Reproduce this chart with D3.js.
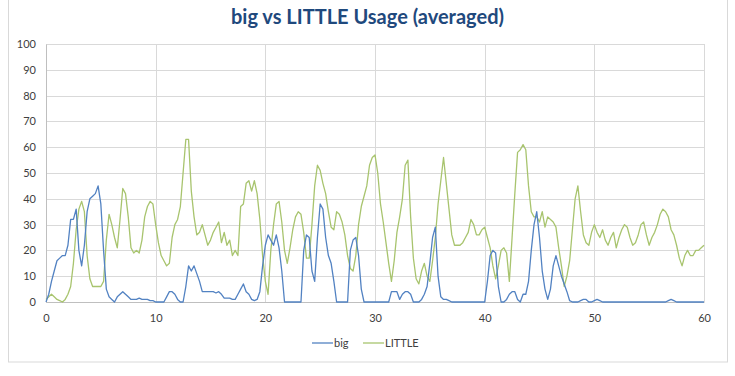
<!DOCTYPE html>
<html>
<head>
<meta charset="utf-8">
<script src="https://cdn.jsdelivr.net/npm/d3@7"></script>
<style>
  body { margin: 0; background: #fff; }
  text { font-family: Lato, "Open Sans", sans-serif; }
</style>
</head>
<body>
<div id="chart"></div>
<script>
var w = 735;
var h = 376;
var margin = { top: 44, right: 31, bottom: 74, left: 46 };
var width = w - margin.left - margin.right;
var height = h - margin.top - margin.bottom;

// samples every 0.25 on the x axis, starting at 0
var step = 0.25;
var seriesNames = ["big", "LITTLE"];
var xTicks = [0, 10, 20, 30, 40, 50, 60];
var yTicks = [0, 10, 20, 30, 40, 50, 60, 70, 80, 90, 100];

var bigUsage = [
  0, 3, 8, 12, 16, 17, 18, 18, 22, 32, 32, 36, 20, 14, 22, 35,
  40, 41, 42, 45, 38, 20, 5, 2, 1, 0, 2, 3, 4, 3, 2, 1,
  1, 1, 1.5, 1, 1, 1, 0.5, 0.5, 0, 0, 0, 0, 2, 4, 4, 3,
  1, 0, 0, 6, 14, 12, 14, 11, 8, 4, 4, 4, 4, 4, 3.5, 4,
  3, 1.5, 1.5, 1.5, 1, 1, 3, 5, 7, 4, 3, 1, 0.5, 1, 4, 14,
  22, 26, 24, 22, 26, 21, 12, 0, 0, 0, 0, 0, 0, 0, 20, 26,
  25, 12, 8, 25, 38, 36, 25, 18, 15, 8, 0, 0, 0, 0, 0, 20,
  24, 25, 18, 5, 0, 0, 0, 0, 0, 0, 0, 0, 0, 0, 4, 4,
  4, 1, 3, 4, 4, 3, 0, 0, 0, 1, 3, 6, 15, 25, 29, 10,
  2, 1, 1, 0.5, 0, 0, 0, 0, 0, 0, 0, 0, 0, 0, 0, 0,
  0, 8, 18, 20, 19, 6, 0, 0, 1, 3, 4, 4, 1, 0, 3, 3,
  8, 20, 30, 35, 25, 12, 5, 1, 5, 14, 18, 14, 10, 7, 4, 0.5,
  0, 0, 0, 0.5, 1, 1, 0, 0, 0.5, 1, 0.5, 0, 0, 0, 0, 0,
  0, 0, 0, 0, 0, 0, 0, 0, 0, 0, 0, 0, 0, 0, 0, 0,
  0, 0, 0, 0.5, 1, 0.5, 0, 0, 0, 0, 0, 0, 0, 0, 0, 0,
  0
];

var littleUsage = [
  1, 2, 3, 2, 1, 0.5, 0, 1, 3, 6, 15, 28, 36, 39, 35, 18,
  9, 6, 6, 6, 6, 8, 24, 34, 30, 25, 21, 32, 44, 42, 33, 21,
  19, 20, 19, 24, 33, 37, 39, 38, 30, 23, 18, 16, 14, 15, 25, 30,
  32, 37, 50, 63, 63, 43, 33, 26, 27, 30, 26, 22, 24, 27, 29, 31,
  23, 27, 22, 24, 18, 20, 18, 37, 38, 46, 47, 43, 47, 42, 32, 18,
  8, 3, 20, 30, 38, 39, 31, 20, 15, 21, 28, 33, 35, 34, 27, 17,
  17, 30, 45, 53, 51, 46, 42, 35, 29, 28, 35, 34, 31, 26, 18, 13,
  12, 18, 30, 37, 41, 45, 53, 56, 57, 50, 38, 31, 23, 15, 8, 16,
  27, 33, 40, 53, 55, 33, 17, 9, 7, 12, 15, 10, 8, 16, 25, 38,
  47, 56, 46, 36, 26, 22, 22, 22, 23, 25, 27, 32, 30, 26, 26, 28,
  29, 25, 21, 14, 9, 14, 20, 21, 19, 8, 25, 42, 58, 59, 61, 59,
  45, 35, 33, 33, 31, 35, 29, 33, 32, 31, 29, 21, 14, 6, 10, 16,
  28, 40, 45, 35, 26, 23, 22, 27, 30, 27, 25, 28, 24, 22, 25, 27,
  21, 25, 28, 30, 29, 25, 22, 23, 26, 30, 31, 26, 22, 25, 27, 30,
  34, 36, 35, 33, 28, 26, 22, 17, 14, 18, 20, 18, 18, 20, 20, 21,
  22
];

var colors = { big: "#5282c2", LITTLE: "#a8c46e" };

var svg = d3.select("#chart")
  .append("svg")
  .attr("width", w)
  .attr("height", h);

// outer chart border
svg.append("rect")
  .attr("x", 8.5)
  .attr("y", -1)
  .attr("width", 719)
  .attr("height", 363)
  .attr("fill", "#fff")
  .attr("stroke", "#d9d9d9");

// title
svg.append("text")
  .attr("x", w / 2)
  .attr("y", 24)
  .attr("text-anchor", "middle")
  .attr("fill", "#1f497d")
  .style("font-size", "20px")
  .style("font-weight", "bold")
  .text("big vs LITTLE Usage (averaged)");

var g = svg.append("g")
  .attr("transform", "translate(" + margin.left + "," + margin.top + ")");

var xScale = d3.scaleLinear().domain([0, 60]).range([0, width]);
var yScale = d3.scaleLinear().domain([0, 100]).range([height, 0]);

// gridlines
g.selectAll(".hgrid")
  .data(yTicks)
  .enter().append("line")
  .attr("x1", 0)
  .attr("x2", width)
  .attr("y1", function(d) { return Math.round(yScale(d)) + 0.5; })
  .attr("y2", function(d) { return Math.round(yScale(d)) + 0.5; })
  .attr("stroke", "#d9d9d9");

g.selectAll(".vgrid")
  .data(xTicks)
  .enter().append("line")
  .attr("y1", 0)
  .attr("y2", height)
  .attr("x1", function(d) { return Math.round(xScale(d)) + 0.5; })
  .attr("x2", function(d) { return Math.round(xScale(d)) + 0.5; })
  .attr("stroke", "#d9d9d9");

// axes
var yAxis = g.append("g")
  .call(d3.axisLeft(yScale).tickValues(yTicks).tickSize(0).tickPadding(10));
var xAxis = g.append("g")
  .attr("transform", "translate(0," + height + ")")
  .call(d3.axisBottom(xScale).tickValues(xTicks).tickSize(0).tickPadding(12));

[xAxis, yAxis].forEach(function(ax) {
  ax.select(".domain").attr("stroke", "#bfbfbf");
  ax.selectAll("text")
    .attr("fill", "#404040")
    .style("font-size", "11px")
    .style("font-family", "Lato, 'Open Sans', sans-serif");
});

// lines
var line = d3.line()
  .x(function(d, i) { return xScale(i * step); })
  .y(function(d) { return yScale(d); });

g.append("path")
  .datum(littleUsage)
  .attr("d", line)
  .attr("fill", "none")
  .attr("stroke", colors.LITTLE)
  .attr("stroke-width", 1.3)
  .attr("stroke-linejoin", "round");

g.append("path")
  .datum(bigUsage)
  .attr("d", line)
  .attr("fill", "none")
  .attr("stroke", colors.big)
  .attr("stroke-width", 1.3)
  .attr("stroke-linejoin", "round");

// legend
var legend = svg.append("g").attr("transform", "translate(312,347)");
var legendX = [0, 51];
seriesNames.forEach(function(name, i) {
  var item = legend.append("g").attr("transform", "translate(" + legendX[i] + ",0)");
  item.append("line")
    .attr("x1", 0).attr("x2", 21)
    .attr("y1", -4).attr("y2", -4)
    .attr("stroke", colors[name])
    .attr("stroke-width", 1.3);
  item.append("text")
    .attr("x", 22)
    .attr("y", 0)
    .attr("fill", "#404040")
    .style("font-size", "11px")
    .text(name);
});
</script>
</body>
</html>
